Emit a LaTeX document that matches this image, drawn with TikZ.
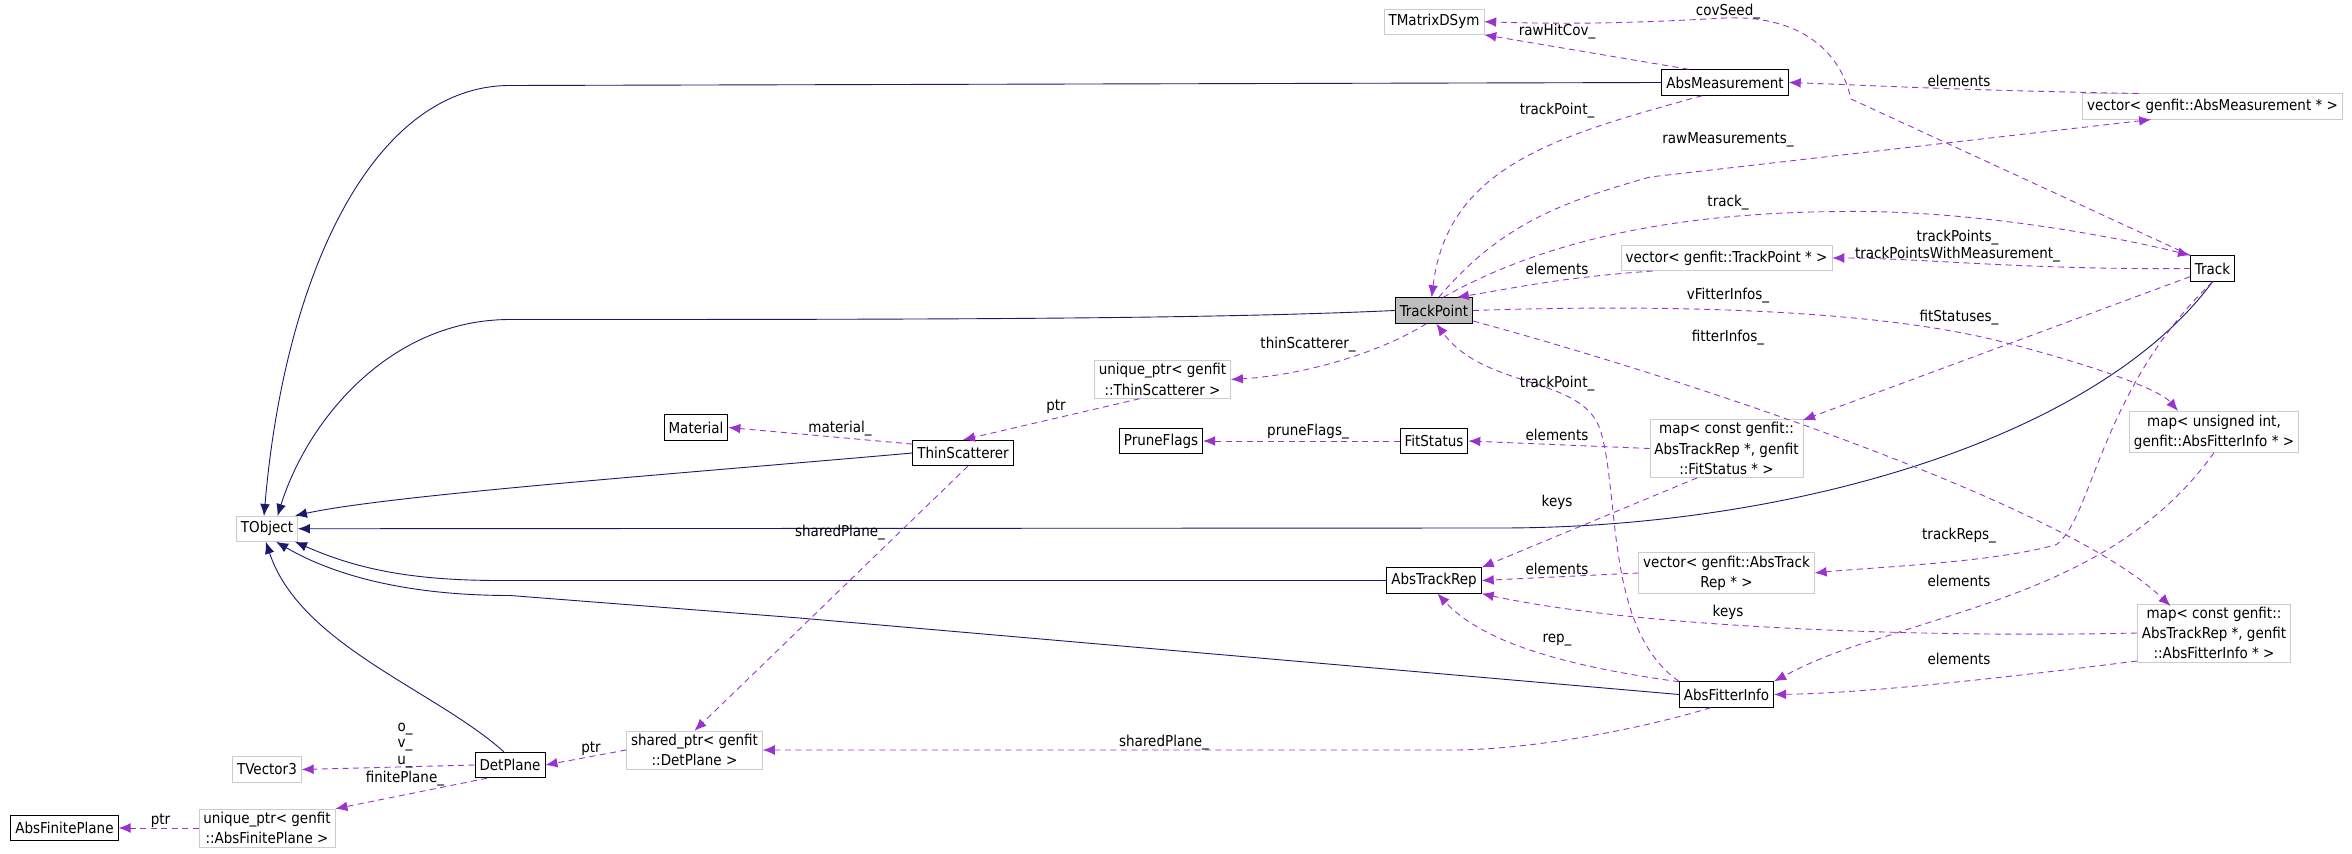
\documentclass[tikz,border=0pt]{standalone}
\usepackage{fontspec}
\setmainfont{DejaVu Sans Condensed}
\usetikzlibrary{arrows.meta}
\definecolor{inhblue}{HTML}{191970}
\definecolor{usepurple}{HTML}{9A32CD}
\tikzset{
  cls/.style={rectangle, draw=black, semithick, inner xsep=3pt, inner ysep=2pt,
    minimum height=17pt, font=\fontsize{10}{13.5}\selectfont, align=center},
  ext/.style={cls, draw=gray!40, thin},
  focus/.style={cls, fill=gray!50},
  lbl/.style={inner sep=0pt, font=\fontsize{10}{11}\selectfont, align=center},
  inh/.style={draw=inhblue, semithick, -{Latex[length=8pt,width=6.5pt]}},
  use/.style={draw=usepurple, semithick, dashed, dash pattern=on 4pt off 3pt,
    -{Latex[length=8pt,width=6.5pt]}}
}
\begin{document}
\begin{tikzpicture}[x=1pt,y=-1pt]
  \useasboundingbox (0,0) rectangle (1568,569);

  % classes
  \node (tmx)   [ext]   at (956,14.5) {TMatrixDSym};
  \node (am)    [cls]   at (1150,55)  {AbsMeasurement};
  \node (vam)   [ext]   at (1475,71)  {vector< genfit::AbsMeasurement * >};
  \node (tp)    [focus] at (956,207)  {TrackPoint};
  \node (vtp)   [ext]   at (1151,172) {vector< genfit::TrackPoint * >};
  \node (tr)    [cls]   at (1475,179) {Track};
  \node (ups)   [ext]   at (775,253)  {unique\_ptr< genfit\\::ThinScatterer >};
  \node (mat)   [cls]   at (464,285)  {Material};
  \node (ts)    [cls]   at (642,302)  {ThinScatterer};
  \node (pf)    [cls]   at (774,294)  {PruneFlags};
  \node (fs)    [cls]   at (956,294)  {FitStatus};
  \node (mapfs) [ext]   at (1151,299) {map< const genfit::\\AbsTrackRep *, genfit\\::FitStatus * >};
  \node (mapu)  [ext]   at (1476,288) {map< unsigned int,\\ genfit::AbsFitterInfo * >};
  \node (tobj)  [ext]   at (178,352.5) {TObject};
  \node (atr)   [cls]   at (956,387)  {AbsTrackRep};
  \node (vatr)  [ext]   at (1151,382) {vector< genfit::AbsTrack\\Rep * >};
  \node (mapfi) [ext]   at (1476,422) {map< const genfit::\\AbsTrackRep *, genfit\\::AbsFitterInfo * >};
  \node (afi)   [cls]   at (1151,463) {AbsFitterInfo};
  \node (sp)    [ext]   at (463,500)  {shared\_ptr< genfit\\::DetPlane >};
  \node (dp)    [cls]   at (340,510)  {DetPlane};
  \node (tv)    [ext]   at (178,513)  {TVector3};
  \node (upf)   [ext]   at (178,552)  {unique\_ptr< genfit\\::AbsFinitePlane >};
  \node (afp)   [cls]   at (43,552)   {AbsFinitePlane};

  % inheritance
  \draw[inh] (am.west) -- (340,57) .. controls (250,57) and (190,180) .. (176,344);
  \draw[inh] (tp.west) .. controls (800,213) and (600,213) .. (340,213) .. controls (260,213) and (205,280) .. (185,344);
  \draw[inh] (ts.west) .. controls (450,316) and (260,330) .. (tobj.25);
  \draw[inh] (tr.south) .. controls (1400,290) and (1200,352) .. (1000,352) -- (tobj.east);
  \draw[inh] (atr.west) -- (333,387) .. controls (270,387) and (235,378) .. (tobj.-25);
  \draw[inh] (afi.west) -- (533,412) -- (340,397) .. controls (275,397) and (225,385) .. (tobj.-55);
  \draw[inh] (dp.115) .. controls (290,460) and (200,430) .. (tobj.-95);

  % usage
  \draw[use] (am.160) -- (tmx.south east);
  \draw[use] (tr.north west) -- (1234,66) .. controls (1226,30) and (1195,10) .. (1150,12) .. controls (1080,16) and (1040,16) .. (tmx.east);
  \draw[use] (vam.170) .. controls (1300,60) and (1250,57) .. (am.east);
  \draw[use] (am.-150) .. controls (1040,90) and (965,110) .. (tp.100);
  \draw[use] (tp.70) .. controls (1000,150) and (1040,135) .. (1100,118) -- (vam.192);
  \draw[use] (tp.55) .. controls (1030,160) and (1120,140) .. (1244,141) .. controls (1330,142) and (1420,160) .. (tr.north west);
  \draw[use] (vtp.-170) .. controls (1040,185) and (1010,192) .. (tp.30);
  \draw[use] (tr.west) .. controls (1350,180) and (1280,172) .. (vtp.east);
  \draw[use] (tp.east) .. controls (1100,203) and (1250,205) .. (1339,229) .. controls (1400,245) and (1440,260) .. (1452,274);
  \draw[use] (tr.-160) -- (1202,280);
  \draw[use] (tp.-15) .. controls (1150,260) and (1380,340) .. (1447,404);
  \draw[use] (tp.-120) .. controls (920,235) and (870,250) .. (ups.east);
  \draw[use] (ups.-140) -- (ts.north);
  \draw[use] (ts.170) -- (mat.east);
  \draw[use] (fs.west) -- (pf.east);
  \draw[use] (mapfs.west) -- (fs.east);
  \draw[use] (mapfs.-135) -- (atr.north east);
  \draw[use] (afi.north west) .. controls (1070,420) and (1080,330) .. (1067,287) .. controls (1055,250) and (990,260) .. (tp.-80);
  \draw[use] (ts.-70) -- (sp.north);
  \draw[use] (tr.south) .. controls (1400,260) and (1395,345) .. (1371,363) .. controls (1330,375) and (1250,378) .. (vatr.east);
  \draw[use] (vatr.west) -- (atr.east);
  \draw[use] (mapu.south) .. controls (1420,380) and (1330,400) .. (1255,425) .. controls (1220,435) and (1200,445) .. (afi.north east);
  \draw[use] (mapfi.west) .. controls (1300,425) and (1100,420) .. (atr.south east);
  \draw[use] (mapfi.-160) .. controls (1350,450) and (1250,462) .. (afi.east);
  \draw[use] (afi.165) .. controls (1050,445) and (990,430) .. (atr.-75);
  \draw[use] (afi.-140) .. controls (1080,490) and (1010,500) .. (969,500) -- (sp.east);
  \draw[use] (sp.west) -- (dp.east);
  \draw[use] (dp.west) -- (tv.east);
  \draw[use] (dp.-150) -- (upf.north east);
  \draw[use] (upf.west) -- (afp.east);

  % edge labels
  \node (lRawHitCov)  [lbl] at (1038,21)  {rawHitCov\_};
  \node (lCovSeed)    [lbl] at (1152,8)   {covSeed\_};
  \node (lElemAm)     [lbl] at (1306,54)  {elements};
  \node (lTpAm)       [lbl] at (1038,74)  {trackPoint\_};
  \node (lRawMeas)    [lbl] at (1152,93)  {rawMeasurements\_};
  \node (lTrack)      [lbl] at (1152,135) {track\_};
  \node (lTrackPts)   [lbl] at (1305,164) {trackPoints\_\\trackPointsWithMeasurement\_};
  \node (lElemTp)     [lbl] at (1038,179) {elements};
  \node (lVFitter)    [lbl] at (1152,197) {vFitterInfos\_};
  \node (lFitStat)    [lbl] at (1306,212) {fitStatuses\_};
  \node (lFitterInfo) [lbl] at (1152,225) {fitterInfos\_};
  \node (lThinSc)     [lbl] at (872,230)  {thinScatterer\_};
  \node (lTpAfi)      [lbl] at (1038,256) {trackPoint\_};
  \node (lPtrTs)      [lbl] at (704,271)  {ptr};
  \node (lMaterial)   [lbl] at (560,286)  {material\_};
  \node (lPrune)      [lbl] at (872,288)  {pruneFlags\_};
  \node (lElemFs)     [lbl] at (1038,290) {elements};
  \node (lKeysFs)     [lbl] at (1038,335) {keys};
  \node (lShPlTs)     [lbl] at (560,355)  {sharedPlane\_};
  \node (lTrackReps)  [lbl] at (1306,357) {trackReps\_};
  \node (lElemAtr)    [lbl] at (1038,379) {elements};
  \node (lElemMapU)   [lbl] at (1306,387) {elements};
  \node (lKeysFi)     [lbl] at (1152,408) {keys};
  \node (lRep)        [lbl] at (1038,427) {rep\_};
  \node (lElemFi)     [lbl] at (1306,439) {elements};
  \node (lShPlAfi)    [lbl] at (776,495)  {sharedPlane\_};
  \node (lPtrDp)      [lbl] at (394,499)  {ptr};
  \node (lOvu)        [lbl] at (270,497)  {o\_\\v\_\\u\_};
  \node (lFinite)     [lbl] at (270,519)  {finitePlane\_};
  \node (lPtrAfp)     [lbl] at (107,547)  {ptr};
\end{tikzpicture}
\end{document}
